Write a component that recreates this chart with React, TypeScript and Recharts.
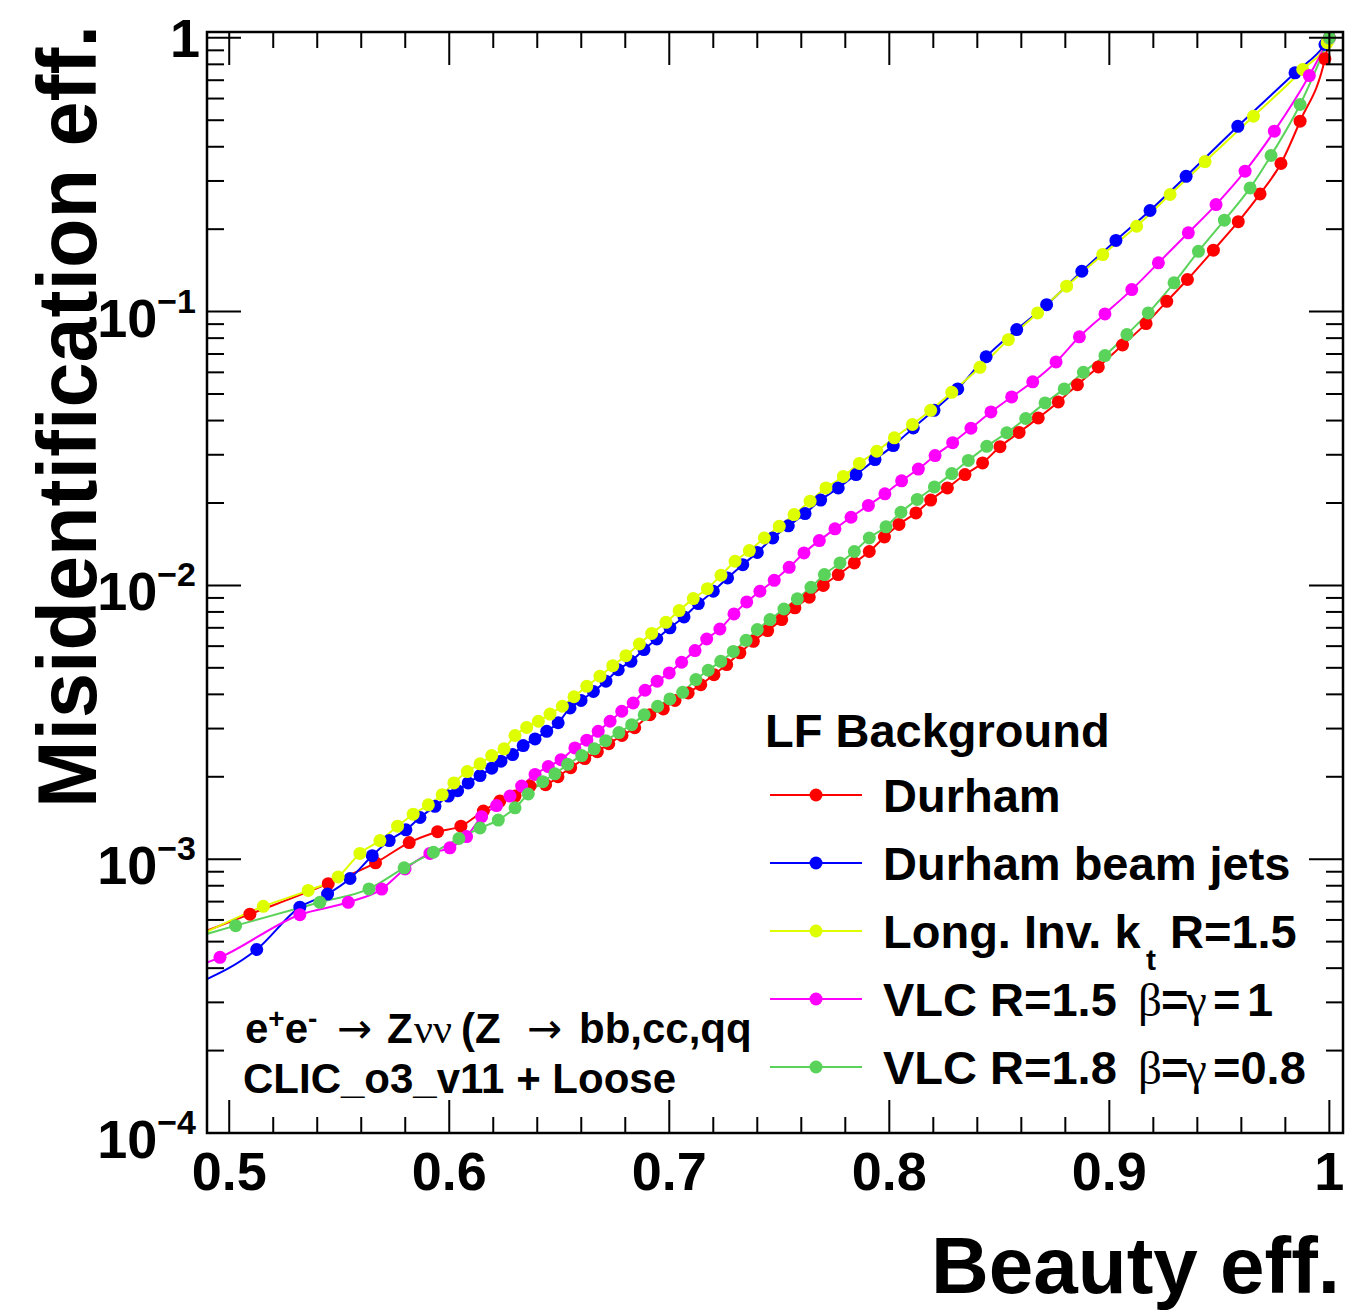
import React from 'react'
import { LineChart, Line, XAxis, YAxis } from 'recharts'

// b-tag efficiency vs light-flavour misidentification
const DURHAM: [number, number][] = [
  [0.485, 0.00053], [0.5094, 0.00063], [0.545, 0.000814], [0.5665, 0.00097], [0.5818, 0.00115],
  [0.5947, 0.00126], [0.6053, 0.00132], [0.6155, 0.0015], [0.623, 0.00163], [0.6299, 0.0017],
  [0.6367, 0.00185], [0.6438, 0.00187], [0.6494, 0.002], [0.6552, 0.00216], [0.6616, 0.00233],
  [0.6673, 0.00247], [0.6725, 0.00264], [0.6785, 0.00283], [0.6843, 0.00302], [0.6912, 0.00337],
  [0.6973, 0.00354], [0.7026, 0.0038], [0.7086, 0.00405], [0.7143, 0.00434], [0.7203, 0.00472],
  [0.7261, 0.00514], [0.7321, 0.00567], [0.7382, 0.00625], [0.7447, 0.00684], [0.7511, 0.0075],
  [0.7571, 0.00828], [0.7636, 0.00905], [0.77, 0.01], [0.7768, 0.01095], [0.7841, 0.01208],
  [0.7909, 0.0133], [0.7978, 0.01502], [0.8044, 0.0167], [0.8121, 0.0184], [0.8188, 0.0205],
  [0.8264, 0.0227], [0.8344, 0.0254], [0.8424, 0.028], [0.8503, 0.0321], [0.859, 0.0362],
  [0.8677, 0.0409], [0.8768, 0.0468], [0.8855, 0.0541], [0.895, 0.0628], [0.906, 0.0755],
  [0.9167, 0.0904], [0.9261, 0.109], [0.9355, 0.131], [0.9473, 0.1676], [0.9586, 0.213],
  [0.9685, 0.269], [0.978, 0.3475], [0.9867, 0.496], [0.998, 0.838], [1.0, 1.0],
]

const DURHAM_BEAM: [number, number][] = [
  [0.485, 0.00035], [0.5125, 0.000468], [0.5321, 0.000668], [0.5447, 0.000746], [0.5549, 0.00085],
  [0.565, 0.00103], [0.5727, 0.00117], [0.5803, 0.00128], [0.5867, 0.00142], [0.5935, 0.00156],
  [0.5996, 0.0017], [0.6038, 0.00178], [0.6086, 0.0019], [0.614, 0.00202], [0.6193, 0.00215],
  [0.6235, 0.00228], [0.6288, 0.00241], [0.6336, 0.0026], [0.639, 0.00275], [0.6443, 0.00293],
  [0.6495, 0.00315], [0.6549, 0.00357], [0.6599, 0.0038], [0.6655, 0.0041], [0.6712, 0.00447],
  [0.6768, 0.00492], [0.6826, 0.00528], [0.6885, 0.00583], [0.6943, 0.00637], [0.7003, 0.007],
  [0.7067, 0.00767], [0.7132, 0.00858], [0.72, 0.00952], [0.7265, 0.01065], [0.7334, 0.0119],
  [0.74, 0.0132], [0.747, 0.0149], [0.7541, 0.0165], [0.7617, 0.01829], [0.7688, 0.0205],
  [0.7768, 0.0227], [0.7849, 0.0254], [0.7935, 0.0288], [0.8018, 0.0324], [0.8109, 0.0376],
  [0.8203, 0.0436], [0.8311, 0.0522], [0.844, 0.0684], [0.8579, 0.086], [0.8715, 0.106],
  [0.8875, 0.1404], [0.903, 0.182], [0.9185, 0.234], [0.9349, 0.312], [0.9584, 0.475],
  [0.9844, 0.745], [0.998, 0.945], [1.0, 1.0],
]

const LONG_INV_KT: [number, number][] = [
  [0.485, 0.00052], [0.5155, 0.000673], [0.5359, 0.000769], [0.5495, 0.000861], [0.5594, 0.00105],
  [0.5685, 0.00117], [0.5765, 0.00132], [0.5836, 0.00146], [0.5905, 0.00158], [0.5968, 0.00172],
  [0.6021, 0.0019], [0.6082, 0.00209], [0.614, 0.00223], [0.6193, 0.00239], [0.6249, 0.00253],
  [0.6299, 0.00283], [0.6352, 0.00303], [0.6405, 0.00319], [0.6458, 0.00339], [0.6514, 0.00362],
  [0.6567, 0.00392], [0.6625, 0.00428], [0.6685, 0.00466], [0.6743, 0.00509], [0.6803, 0.00554],
  [0.6864, 0.00611], [0.692, 0.00668], [0.6985, 0.00733], [0.7045, 0.00809], [0.7109, 0.00895],
  [0.7173, 0.00973], [0.7235, 0.01089], [0.7299, 0.01225], [0.7364, 0.0134], [0.7432, 0.0149],
  [0.75, 0.01643], [0.7567, 0.01814], [0.764, 0.0203], [0.7712, 0.0227], [0.7791, 0.025],
  [0.7864, 0.0279], [0.7943, 0.0309], [0.8023, 0.0346], [0.8105, 0.0387], [0.8188, 0.0436],
  [0.8284, 0.0507], [0.8412, 0.0626], [0.8541, 0.079], [0.8674, 0.0989], [0.8806, 0.1238],
  [0.897, 0.1616], [0.9124, 0.205], [0.9276, 0.2677], [0.9435, 0.353], [0.9655, 0.517],
  [0.9879, 0.766], [0.999, 0.96], [1.0, 1.0],
]

const VLC_R15: [number, number][] = [
  [0.485, 0.000405], [0.4958, 0.000438], [0.5321, 0.000627], [0.5541, 0.000696], [0.5693, 0.000778],
  [0.5799, 0.000921], [0.5912, 0.00105], [0.6003, 0.0011], [0.6079, 0.00121], [0.6147, 0.00143],
  [0.6215, 0.00157], [0.6276, 0.0017], [0.6329, 0.00185], [0.639, 0.00204], [0.645, 0.00218],
  [0.6508, 0.00231], [0.6571, 0.00255], [0.6625, 0.00272], [0.6677, 0.00293], [0.6731, 0.00319],
  [0.6784, 0.00347], [0.6836, 0.00372], [0.689, 0.00414], [0.6945, 0.00447], [0.7, 0.00479],
  [0.7056, 0.00524], [0.7117, 0.00578], [0.717, 0.00637], [0.723, 0.00693], [0.7294, 0.00787],
  [0.7352, 0.0087], [0.7412, 0.00952], [0.7477, 0.01044], [0.7545, 0.01164], [0.7612, 0.01314],
  [0.7682, 0.01458], [0.7753, 0.01609], [0.7826, 0.01774], [0.7905, 0.0196], [0.798, 0.0216],
  [0.8056, 0.0241], [0.8132, 0.0266], [0.8208, 0.0298], [0.8288, 0.0332], [0.8371, 0.0375],
  [0.8462, 0.043], [0.8556, 0.0488], [0.8652, 0.0554], [0.8758, 0.0655], [0.8864, 0.0809],
  [0.898, 0.0981], [0.9102, 0.1203], [0.9223, 0.1507], [0.9359, 0.194], [0.9485, 0.246],
  [0.9617, 0.3257], [0.975, 0.456], [0.9909, 0.728], [1.0, 1.0],
]

const VLC_R18: [number, number][] = [
  [0.485, 0.00052], [0.5029, 0.000572], [0.5412, 0.000696], [0.5635, 0.000779], [0.5795, 0.00093],
  [0.5928, 0.00106], [0.6044, 0.00119], [0.614, 0.0013], [0.6223, 0.00139], [0.6299, 0.00154],
  [0.6359, 0.00173], [0.6425, 0.00192], [0.648, 0.00205], [0.6538, 0.00222], [0.6602, 0.00239],
  [0.6659, 0.00253], [0.6711, 0.00271], [0.6771, 0.0029], [0.6829, 0.0031], [0.6886, 0.00337],
  [0.6947, 0.00362], [0.7003, 0.00385], [0.7061, 0.00407], [0.7121, 0.00453], [0.7177, 0.0049],
  [0.7234, 0.00528], [0.7291, 0.00574], [0.7349, 0.0063], [0.74, 0.0069], [0.7458, 0.0075],
  [0.7521, 0.0082], [0.7582, 0.00893], [0.7644, 0.00984], [0.7705, 0.01095], [0.7776, 0.01208],
  [0.7841, 0.0133], [0.7909, 0.0149], [0.7985, 0.01636], [0.8053, 0.0185], [0.8127, 0.0206],
  [0.8205, 0.0229], [0.8284, 0.0256], [0.8359, 0.0286], [0.8443, 0.0322], [0.8534, 0.0361],
  [0.862, 0.0407], [0.8708, 0.0464], [0.8795, 0.0522], [0.8882, 0.06], [0.898, 0.0691],
  [0.908, 0.0825], [0.9177, 0.0989], [0.9294, 0.1274], [0.9405, 0.166], [0.9523, 0.2157],
  [0.964, 0.283], [0.9735, 0.3716], [0.9867, 0.5706], [1.0, 1.0],
]

const X_TICKS = [0.5, 0.52, 0.54, 0.56, 0.58, 0.6, 0.62, 0.64, 0.66, 0.68, 0.7, 0.72, 0.74, 0.76, 0.78, 0.8,
  0.82, 0.84, 0.86, 0.88, 0.9, 0.92, 0.94, 0.96, 0.98, 1]
const Y_TICKS = [
  0.0001, 0.0002, 0.0003, 0.0004, 0.0005, 0.0006, 0.0007, 0.0008, 0.0009,
  0.001, 0.002, 0.003, 0.004, 0.005, 0.006, 0.007, 0.008, 0.009,
  0.01, 0.02, 0.03, 0.04, 0.05, 0.06, 0.07, 0.08, 0.09,
  0.1, 0.2, 0.3, 0.4, 0.5, 0.6, 0.7, 0.8, 0.9, 1,
]

const SERIES = [
  { name: 'Durham', data: DURHAM, color: '#ff0000' },
  { name: 'Durham beam jets', data: DURHAM_BEAM, color: '#0000ff' },
  { name: 'Long. Inv. kt R=1.5', data: LONG_INV_KT, color: '#ddff00' },
  { name: 'VLC R=1.5 b=g=1', data: VLC_R15, color: '#ff00ff' },
  { name: 'VLC R=1.8 b=g=0.8', data: VLC_R18, color: '#5ad35a' },
]

const W = 1346
const H = 1310
const PLOT = { left: 207, right: 1343, top: 32, bottom: 1133 }
const FONT = '"Liberation Sans", Arial, Helvetica, sans-serif'
const SERIF = '"Liberation Serif", "DejaVu Serif", serif'
const ARROW = '"DejaVu Sans", sans-serif'

const XTick = (props: any) => {
  const { x, payload } = props
  const v = payload.value
  const major = Math.abs(v * 10 - Math.round(v * 10)) < 1e-6
  const len = major ? 33 : 16
  return (
    <g>
      <line x1={x} x2={x} y1={PLOT.bottom} y2={PLOT.bottom - len} stroke="#000" strokeWidth={2} />
      <line x1={x} x2={x} y1={PLOT.top} y2={PLOT.top + len} stroke="#000" strokeWidth={2} />
      {major && (
        <text x={x} y={1190} textAnchor="middle" fontFamily={FONT} fontWeight="bold" fontSize={54} fill="#000">
          {String(Math.round(v * 10) / 10)}
        </text>
      )}
    </g>
  )
}

const YTick = (props: any) => {
  const { y, payload } = props
  const lg = Math.log10(payload.value)
  const exp = Math.round(lg)
  const major = Math.abs(lg - exp) < 1e-6
  const len = major ? 34 : 17
  return (
    <g>
      <line x1={PLOT.left} x2={PLOT.left + len} y1={y} y2={y} stroke="#000" strokeWidth={2} />
      <line x1={PLOT.right} x2={PLOT.right - len} y1={y} y2={y} stroke="#000" strokeWidth={2} />
      {major && exp === 0 && (
        <text x={200} y={y + 19} textAnchor="end" fontFamily={FONT} fontWeight="bold" fontSize={54} fill="#000">1</text>
      )}
      {major && exp !== 0 && (
        <text x={196} y={y + 25} textAnchor="end" fontFamily={FONT} fontWeight="bold" fontSize={54} fill="#000">
          10<tspan dy={-24} fontSize={34}>{'\u2212' + String(-exp)}</tspan>
        </text>
      )}
    </g>
  )
}

const LEGEND_Y = [795, 863, 931, 999, 1067]

function Overlay() {
  const t = { fontFamily: FONT, fontWeight: 'bold' as const, fill: '#000' }
  return (
    <svg width={W} height={H} style={{ position: 'absolute', left: 0, top: 0, pointerEvents: 'none' }}>
      <rect x={PLOT.left} y={PLOT.top} width={PLOT.right - PLOT.left} height={PLOT.bottom - PLOT.top}
        fill="none" stroke="#000" strokeWidth={2.5} />

      {/* axis titles */}
      <text x={1340} y={1293} textAnchor="end" fontSize={80} {...t}>Beauty eff.</text>
      <text x={96} y={25} textAnchor="end" fontSize={84} textLength={783} lengthAdjust="spacingAndGlyphs"
        transform="rotate(-90 96 25)" {...t}>Misidentification eff.</text>

      {/* process label */}
      <text x={245} y={1043} fontSize={42} {...t}>
        e<tspan dy={-15} fontSize={28}>+</tspan><tspan dy={15}>e</tspan><tspan dy={-15} fontSize={28}>-</tspan>
        <tspan x={337} dy={15} fontFamily={ARROW} fontWeight="normal">{'\u2192'}</tspan>
        <tspan x={387}>Z</tspan>
        <tspan x={414} fontFamily={SERIF} fontWeight="normal">{'\u03bd\u03bd'}</tspan>
        <tspan x={461}>(Z</tspan>
        <tspan x={527} fontFamily={ARROW} fontWeight="normal">{'\u2192'}</tspan>
        <tspan x={579}>bb,cc,qq</tspan>
      </text>
      <text x={243} y={1093} fontSize={42} {...t}>CLIC_o3_v11 + Loose</text>

      {/* legend */}
      <text x={765} y={747} fontSize={47} {...t}>LF Background</text>
      {SERIES.map((s, i) => (
        <g key={s.name}>
          <line x1={770} x2={862} y1={LEGEND_Y[i]} y2={LEGEND_Y[i]} stroke={s.color} strokeWidth={2} />
          <circle cx={816} cy={LEGEND_Y[i]} r={6.5} fill={s.color} />
        </g>
      ))}
      <text x={883} y={812} fontSize={47} {...t}>Durham</text>
      <text x={883} y={880} fontSize={47} {...t}>Durham beam jets</text>
      <text y={948} fontSize={47} {...t}>
        <tspan x={883}>Long. Inv. k</tspan>
        <tspan x={1146} dy={22} fontSize={30}>t</tspan>
        <tspan x={1170} dy={-22}>R=1.5</tspan>
      </text>
      <text y={1016} fontSize={47} {...t}>
        <tspan x={883}>VLC R=1.5</tspan>
        <tspan x={1138} fontFamily={SERIF} fontWeight="normal">{'\u03b2'}</tspan>
        <tspan x={1161}>=</tspan>
        <tspan x={1186} fontFamily={SERIF} fontWeight="normal">{'\u03b3'}</tspan>
        <tspan x={1213}>=</tspan>
        <tspan x={1247}>1</tspan>
      </text>
      <text y={1084} fontSize={47} {...t}>
        <tspan x={883}>VLC R=1.8</tspan>
        <tspan x={1138} fontFamily={SERIF} fontWeight="normal">{'\u03b2'}</tspan>
        <tspan x={1161}>=</tspan>
        <tspan x={1186} fontFamily={SERIF} fontWeight="normal">{'\u03b3'}</tspan>
        <tspan x={1213}>=0.8</tspan>
      </text>
    </svg>
  )
}

export default function App() {
  return (
    <div style={{ position: 'absolute', left: 0, top: 0, width: W, height: H, background: '#fff' }}>
      <LineChart width={W} height={H} margin={{ top: PLOT.top, right: W - PLOT.right, left: 0, bottom: 0 }}>
        <XAxis
          type="number"
          dataKey="x"
          domain={[0.4899, 1.0062]}
          allowDataOverflow
          ticks={X_TICKS}
          interval={0}
          tick={XTick}
          tickLine={false}
          axisLine={false}
          tickSize={0}
          tickMargin={0}
          height={H - PLOT.bottom}
        />
        <YAxis
          type="number"
          dataKey="y"
          scale="log"
          domain={[0.0001, 1.05]}
          allowDataOverflow
          ticks={Y_TICKS}
          interval={0}
          tick={YTick}
          tickLine={false}
          axisLine={false}
          tickSize={0}
          tickMargin={0}
          width={PLOT.left}
        />
        {SERIES.map(s => (
          <Line
            key={s.name}
            name={s.name}
            data={s.data.map(([x, y]) => ({ x, y }))}
            dataKey="y"
            type="monotone"
            stroke={s.color}
            strokeWidth={2}
            dot={{ r: 6.5, fill: s.color, stroke: 'none' }}
            activeDot={false}
            isAnimationActive={false}
          />
        ))}
      </LineChart>
      <Overlay />
    </div>
  )
}
